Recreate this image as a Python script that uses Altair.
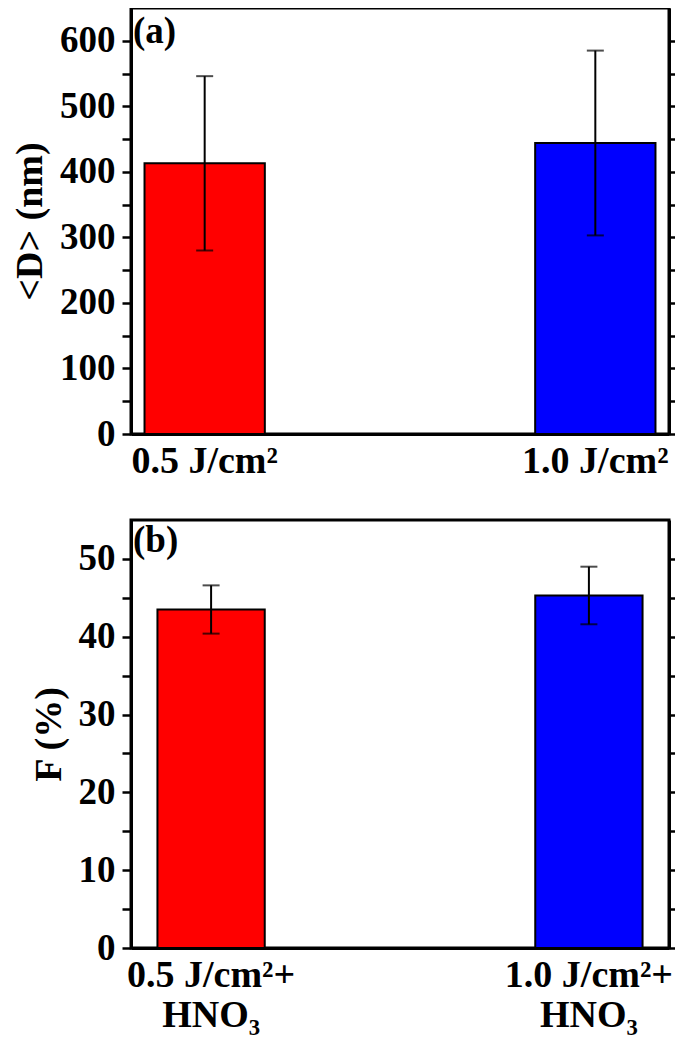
import altair as alt
import pandas as pd

# ---- data ----
cats_a = ["0.5 J/cm²", "1.0 J/cm²"]
d_mean = [413, 444]
d_err = [133, 141]

cats_b = ["0.5 J/cm²+|HNO₃", "1.0 J/cm²+|HNO₃"]
f_mean = [43.5, 45.3]
f_err = [3.1, 3.7]

bar_colors = ["#FF0000", "#0000FF"]

FONT = "Liberation Serif"


def panel(cats, means, errs, ymax, major, minor, ytitle, tag, tag_y, pin, pout, h):
    df = pd.DataFrame({
        "cat": cats,
        "mean": means,
        "lo": [m - e for m, e in zip(means, errs)],
        "hi": [m + e for m, e in zip(means, errs)],
        "col": bar_colors,
    })
    vals = []
    v = 0
    while v <= ymax - minor + 1e-9:
        vals.append(v)
        v += minor
    yscale = alt.Scale(domain=[0, ymax], nice=False, zero=True)
    xenc = alt.X(
        "cat:N", sort=cats,
        scale=alt.Scale(paddingInner=pin, paddingOuter=pout),
        axis=alt.Axis(title=None, labelAngle=0, ticks=False,
                      labelExpr="split(datum.label, '|')",
                      labelPadding=8, labelLineHeight=40,
                      labelFontSize=38, labelFont=FONT, labelFontWeight="bold",
                      labelColor="black", domainColor="black", domainWidth=3),
    )
    base = alt.Chart(df)
    bars = base.mark_bar(stroke="black", strokeWidth=2).encode(
        x=xenc,
        y=alt.Y("mean:Q", scale=yscale,
                axis=alt.Axis(values=vals, title=ytitle, grid=False,
                              labelExpr=f"datum.value % {major} == 0 ? datum.label : ''",
                              tickSize=9, tickWidth=2.5, tickColor="black",
                              domainColor="black", domainWidth=3,
                              labelFontSize=37, labelFont=FONT, labelFontWeight="bold",
                              labelColor="black", labelPadding=7,
                              titleFontSize=38, titleFont=FONT, titleFontWeight="bold",
                              titleColor="black", titlePadding=10)),
        color=alt.Color("col:N", scale=None),
    )
    rule = base.mark_rule(color="black", strokeWidth=2).encode(
        x=alt.X("cat:N", sort=cats),
        y=alt.Y("lo:Q", scale=yscale,
                axis=alt.Axis(orient="right", values=vals, labels=False, title=None,
                              grid=False, tickSize=9, tickWidth=2.5, tickColor="black",
                              domainColor="black", domainWidth=3)),
        y2="hi:Q",
    )
    cap_hi = base.mark_tick(color="black", thickness=2, size=17).encode(
        x=alt.X("cat:N", sort=cats),
        y=alt.Y("hi:Q", scale=yscale, axis=None),
    )
    cap_lo = base.mark_tick(color="black", thickness=2, size=17).encode(
        x=alt.X("cat:N", sort=cats),
        y=alt.Y("lo:Q", scale=yscale, axis=None),
    )
    label = alt.Chart(pd.DataFrame({"t": [tag]})).mark_text(
        align="left", baseline="top", font=FONT, fontWeight="bold",
        fontSize=37, color="black",
    ).encode(x=alt.value(2), y=alt.value(tag_y), text="t:N")
    return alt.layer(bars, rule, cap_hi, cap_lo, label).resolve_axis(
        y="independent").properties(width=538, height=h)


top = panel(cats_a, d_mean, d_err, 650, 100, 50, "<D> (nm)", "(a)", 6, 0.692, 0.0346, 426)
bot = panel(cats_b, f_mean, f_err, 55, 10, 5, "F (%)", "(b)", 3, 0.716, 0.07, 428)

chart = alt.vconcat(top, bot, spacing=36).properties(
    padding={"left": 2, "top": -2, "right": -6, "bottom": 0},
).configure_view(stroke="black", strokeWidth=3).configure_axis(grid=False)

chart.save("out.html", embed_options={"renderer": "svg", "actions": False})
